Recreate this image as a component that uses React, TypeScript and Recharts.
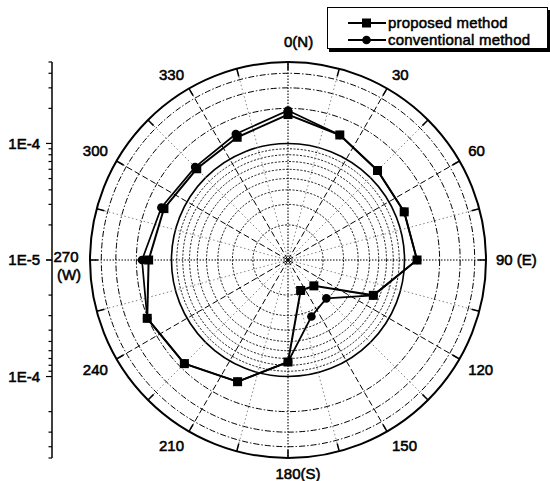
import React from "react";
import {
  RadarChart,
  Radar,
  PolarGrid,
  PolarAngleAxis,
  PolarRadiusAxis,
  Legend,
  LineChart,
  YAxis,
} from "recharts";

// wind direction in degrees, 0 = north, clockwise
const directions = [0, 22.5, 45, 67.5, 90, 112.5, 135, 157.5, 180, 202.5, 225, 247.5, 270, 292.5, 315, 337.5];
const proposed = [1.77e-4, 1.45e-4, 1.22e-4, 1.2e-4, 1.28e-4, 6.2e-5, 2.06e-5, 1.92e-5, 7.5e-5, 1.35e-4, 1.81e-4, 2.03e-4, 1.57e-4, 1.42e-4, 1.28e-4, 1.38e-4];
const conventional = [1.92e-4, 1.45e-4, 1.22e-4, 1.2e-4, 1.28e-4, 6.2e-5, 2.92e-5, 3.35e-5, 7.5e-5, 1.35e-4, 1.81e-4, 2.03e-4, 1.79e-4, 1.5e-4, 1.34e-4, 1.48e-4];

const seriesNames = ["proposed method", "conventional method"];

const angleTicks = [0, 30, 60, 90, 120, 150, 180, 210, 240, 270, 300, 330];
const angleLabels = ["0(N)", "30", "60", "90 (E)", "120", "150", "180(S)", "210", "240", "270", "300", "330"];
const cardinalTicks = [0, 90, 180, 270];
const diagonalTicks = [30, 60, 120, 150, 210, 240, 300, 330];
const fineTicks = [15, 45, 75, 105, 135, 165, 195, 225, 255, 285, 315, 345];
const rimTicks = [0, 15, 30, 45, 60, 75, 90, 105, 120, 135, 150, 165, 180, 195, 210, 225, 240, 255, 270, 285, 300, 315, 330, 345];

const minorRings = [2e-5, 3e-5, 4e-5, 5e-5, 6e-5, 7e-5, 8e-5, 9e-5];
const decadeRings = [1e-4];
const outerRings = [2e-4, 3e-4, 4e-4];
const scaleTicks = [1e-5, 2e-5, 3e-5, 4e-5, 5e-5, 6e-5, 7e-5, 8e-5, 9e-5, 1e-4, 2e-4, 3e-4, 4e-4, 5e-4];

const DOMAIN: [number, number] = [1e-5, 5e-4];
const FONT = "'Liberation Sans', Arial, Helvetica, sans-serif";

const data = directions.map((angle, i) => ({
  angle,
  proposed: proposed[i],
  conventional: conventional[i],
}));

const textStyle = { fontFamily: FONT, fontSize: 15, fill: "#000", stroke: "#000", strokeWidth: 0.55 };

function AngleTick(props: any) {
  const { x, y, payload } = props;
  const v = payload.value;
  const label = angleLabels[angleTicks.indexOf(v)] ?? String(v);
  const rad = ((90 - v) * Math.PI) / 180;
  const c = Math.cos(rad);
  const s = Math.sin(rad);

  if (v === 0) {
    return <text x={x - 4} y={y - 5} textAnchor="start" {...textStyle}>{label}</text>;
  }
  if (v === 180) {
    return <text x={x - 12.5} y={y} dy="0.72em" textAnchor="start" {...textStyle}>{label}</text>;
  }
  if (v === 270) {
    // west label is split over two lines
    return (
      <g>
        <text x={x - 14} y={y} dy="0.15em" textAnchor="middle" {...textStyle}>270</text>
        <text x={x - 11} y={y} dy="1.3em" textAnchor="middle" {...textStyle}>(W)</text>
      </g>
    );
  }
  const anchor = c > 0.01 ? "start" : c < -0.01 ? "end" : "middle";
  const dy = s > 0.01 ? "0" : s < -0.01 ? "0.72em" : "0.36em";
  return <text x={x} y={y} dy={dy} textAnchor={anchor} {...textStyle}>{label}</text>;
}

function SquareDot(props: any) {
  const { cx, cy } = props;
  if (cx == null || cy == null) return null;
  return <rect x={cx - 4.5} y={cy - 4.5} width={9} height={9} fill="#000" />;
}

function RoundDot(props: any) {
  const { cx, cy } = props;
  if (cx == null || cy == null) return null;
  return <circle cx={cx} cy={cy} r={4.3} fill="#000" />;
}

function LegendBox(props: any) {
  const entries = [...(props.payload ?? [])].sort(
    (a: any, b: any) => seriesNames.indexOf(a.value) - seriesNames.indexOf(b.value)
  );
  return (
    <div style={{ paddingTop: 6, paddingLeft: 20 }}>
      {entries.map((entry: any) => (
        <div key={entry.value} style={{ display: "flex", alignItems: "center", height: 17 }}>
          <svg width={38} height={12}>
            <line x1={0} y1={6} x2={38} y2={6} stroke="#000" strokeWidth={1.8} />
            {entry.value === seriesNames[0] ? (
              <rect x={14} y={1.5} width={9} height={9} fill="#000" />
            ) : (
              <circle cx={18.5} cy={6} r={4.3} fill="#000" />
            )}
          </svg>
          <span
            style={{
              marginLeft: 2,
              fontFamily: FONT,
              fontSize: 15,
              color: "#000",
              letterSpacing: 0.2,
              WebkitTextStroke: "0.5px #000",
            }}
          >
            {entry.value}
          </span>
        </div>
      ))}
    </div>
  );
}

function ScaleTick(props: any) {
  const { x, y, payload, showCenter } = props;
  const v = payload.value;
  const major = v === 1e-4 || v === 1e-5;
  const label = v === 1e-4 ? "1E-4" : v === 1e-5 && showCenter ? "1E-5" : "";
  const len = major ? 6 : 3.5;
  return (
    <g>
      <line x1={x - len} y1={y} x2={x} y2={y} stroke="#000" strokeWidth={1.2} />
      {label && (
        <text x={x - 12} y={y} dy="0.36em" textAnchor="end" {...textStyle}>
          {label}
        </text>
      )}
    </g>
  );
}

// linear strip of the radial scale, mirrored above and below the centre
function SideScale({ flip }: { flip: boolean }) {
  return (
    <LineChart
      width={60}
      height={228}
      data={[]}
      margin={flip ? { top: 20, right: 0, bottom: 10, left: 0 } : { top: 10, right: 0, bottom: 20, left: 0 }}
      style={{ position: "absolute", left: 0, top: flip ? 240 : 52 }}
    >
      <YAxis
        type="number"
        scale="log"
        domain={DOMAIN}
        allowDataOverflow
        ticks={scaleTicks}
        interval={0}
        reversed={flip}
        width={52}
        axisLine={{ stroke: "#000", strokeWidth: 1.5 }}
        tickLine={false}
        tickSize={0}
        tickMargin={0}
        tick={<ScaleTick showCenter={!flip} />}
      />
    </LineChart>
  );
}

export default function App() {
  return (
    <div style={{ position: "absolute", left: 0, top: 0, width: 550, height: 481, background: "#fff" }}>
      <SideScale flip={false} />
      <SideScale flip={true} />
      <RadarChart
        width={550}
        height={481}
        data={data}
        cx={288}
        cy={260}
        innerRadius={0}
        outerRadius={198}
        startAngle={90}
        endAngle={-270}
        margin={{ top: 0, right: 0, bottom: 0, left: 0 }}
        style={{ position: "absolute", left: 0, top: 0 }}
      >
        <PolarRadiusAxis radiusAxisId={0} type="number" scale="log" domain={DOMAIN} allowDataOverflow tick={false} axisLine={false} />
        <PolarRadiusAxis radiusAxisId="minor" type="number" scale="log" domain={DOMAIN} allowDataOverflow ticks={minorRings} tick={false} axisLine={false} />
        <PolarRadiusAxis radiusAxisId="decade" type="number" scale="log" domain={DOMAIN} allowDataOverflow ticks={decadeRings} tick={false} axisLine={false} />
        <PolarRadiusAxis radiusAxisId="outer" type="number" scale="log" domain={DOMAIN} allowDataOverflow ticks={outerRings} tick={false} axisLine={false} />

        <PolarAngleAxis angleAxisId="card" dataKey="angle" type="number" domain={[0, 360]} ticks={cardinalTicks} tick={false} tickLine={false} axisLine={false} />
        <PolarAngleAxis angleAxisId="diag" dataKey="angle" type="number" domain={[0, 360]} ticks={diagonalTicks} tick={false} tickLine={false} axisLine={false} />
        <PolarAngleAxis angleAxisId="fine" dataKey="angle" type="number" domain={[0, 360]} ticks={fineTicks} tick={false} tickLine={false} axisLine={false} />
        <PolarAngleAxis
          angleAxisId="rim"
          dataKey="angle"
          type="number"
          domain={[0, 360]}
          ticks={rimTicks}
          orientation="inner"
          tickSize={8}
          tick={false}
          tickLine={{ stroke: "#000", strokeWidth: 1.5 }}
          axisLine={false}
        />

        <PolarGrid radiusAxisId="minor" gridType="circle" radialLines={false} stroke="#111" strokeWidth={1} strokeDasharray="2 1.6" />
        <PolarGrid radiusAxisId="decade" gridType="circle" radialLines={false} stroke="#000" strokeWidth={1.6} />
        <PolarGrid radiusAxisId="outer" gridType="circle" radialLines={false} stroke="#000" strokeWidth={1} strokeDasharray="6 2 1.5 2" />
        <PolarGrid angleAxisId="fine" polarRadius={[]} stroke="#666" strokeWidth={0.8} strokeDasharray="1.5 2.5" />
        <PolarGrid angleAxisId="diag" polarRadius={[]} stroke="#000" strokeWidth={1} strokeDasharray="6 3" />
        <PolarGrid angleAxisId="card" polarRadius={[]} stroke="#000" strokeWidth={1.1} strokeDasharray="1.5 1.5" />

        <PolarAngleAxis
          angleAxisId={0}
          dataKey="angle"
          type="number"
          domain={[0, 360]}
          ticks={angleTicks}
          tickSize={10}
          tickLine={false}
          tick={<AngleTick />}
          axisLine={{ stroke: "#000", strokeWidth: 2 }}
          axisLineType="circle"
        />

        <Radar
          name={seriesNames[1]}
          dataKey="conventional"
          stroke="#000"
          strokeWidth={1.7}
          fill="none"
          fillOpacity={0}
          dot={<RoundDot />}
          isAnimationActive={false}
        />
        <Radar
          name={seriesNames[0]}
          dataKey="proposed"
          stroke="#000"
          strokeWidth={2}
          fill="none"
          fillOpacity={0}
          dot={<SquareDot />}
          isAnimationActive={false}
        />

        <Legend
          layout="vertical"
          align="center"
          verticalAlign="middle"
          content={<LegendBox />}
          wrapperStyle={{
            left: 327,
            top: 7,
            width: 221,
            height: 42,
            border: "1.5px solid #000",
            boxShadow: "2px 3px 0 #000",
            background: "#fff",
            boxSizing: "border-box",
          }}
        />
      </RadarChart>
    </div>
  );
}
